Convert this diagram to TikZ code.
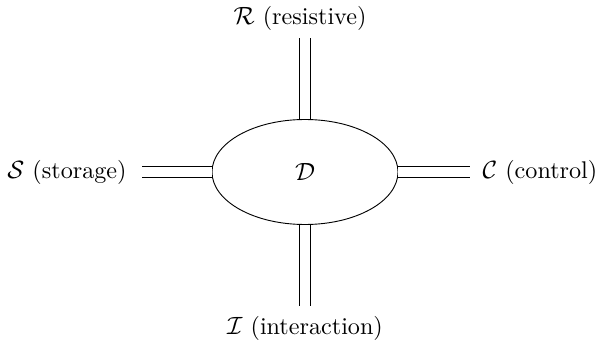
\documentclass[tikz,border=0pt]{standalone}
\usepackage{amsmath,amssymb}
\usepackage{tikz}
\usetikzlibrary{shapes.geometric, positioning}

\begin{document}
\begin{tikzpicture}[
    x=0.01542cm, y=-0.01542cm,
    every node/.style={font=\fontsize{10.6}{12.7}\selectfont},
    port/.style={double, double distance=4.4pt, thin},
    blob/.style={draw, ellipse, minimum width=186*0.01542cm, minimum height=105*0.01542cm, inner sep=0pt},
    lbl/.style={inner sep=0pt},
  ]
  \useasboundingbox (0,0) rectangle (599,345);
  \node[blob] (dir) at (305,172) {$\mathcal{D}$};
  % end points of the bonds
  \coordinate (rEnd) at (305,38);
  \coordinate (iEnd) at (305,306);
  \coordinate (sEnd) at (142,172);
  \coordinate (cEnd) at (470,172);
  \node[lbl] (res) at (300,18) {$\mathcal{R}$ (resistive)};
  \node[lbl] (int) at (305,328) {$\mathcal{I}$ (interaction)};
  \node[lbl] (sto) at (67,172) {$\mathcal{S}$ (storage)};
  \node[lbl] (con) at (540,172) {$\mathcal{C}$ (control)};
  \draw[port] (dir.north) -- (rEnd);
  \draw[port] (dir.south) -- (iEnd);
  \draw[port] (dir.west) -- (sEnd);
  \draw[port] (dir.east) -- (cEnd);
\end{tikzpicture}
\end{document}
